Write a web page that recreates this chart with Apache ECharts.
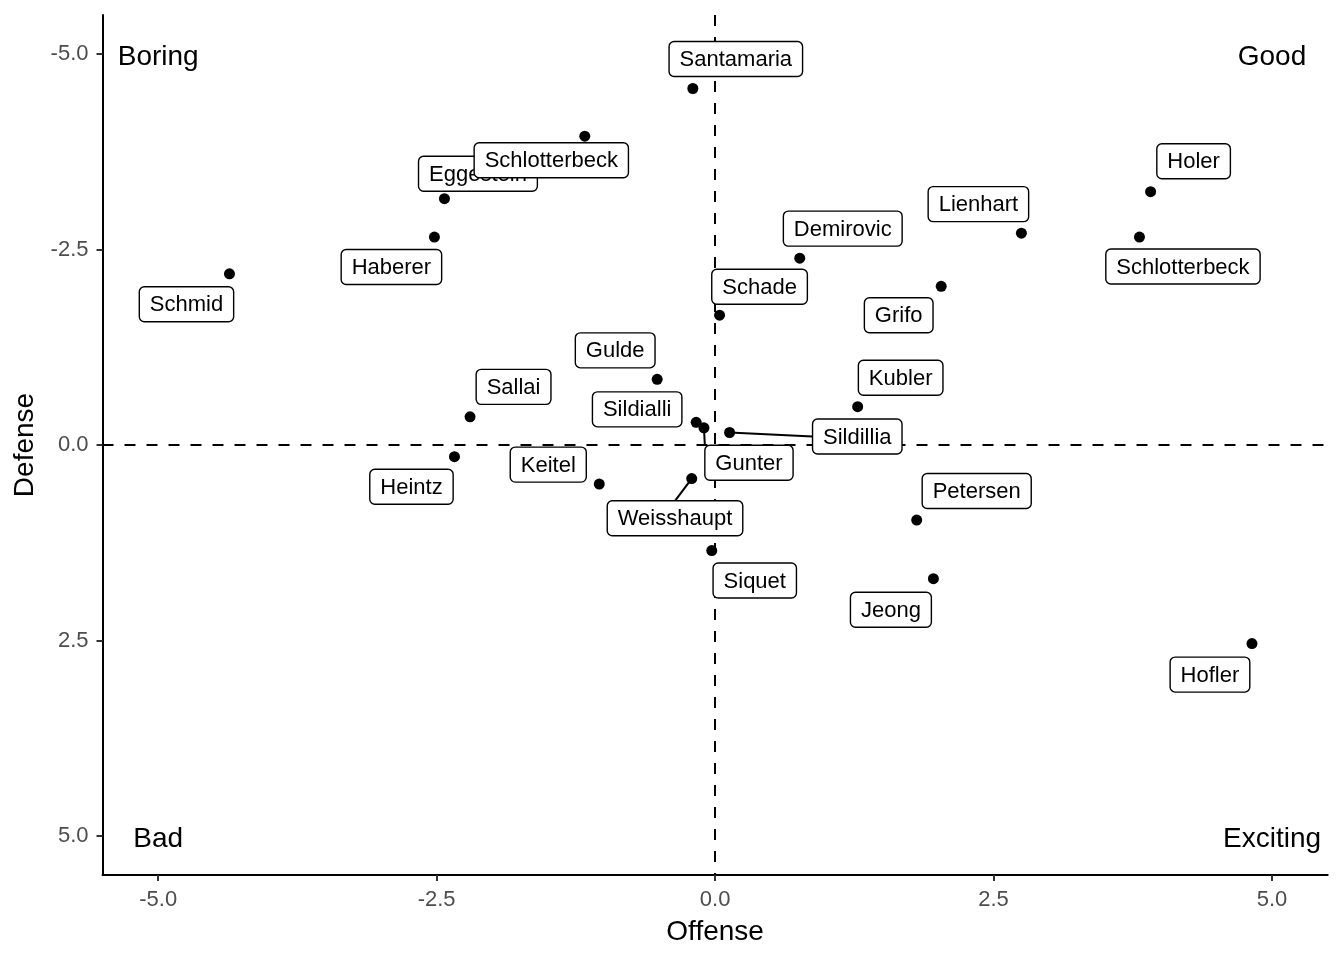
<!DOCTYPE html>
<html>
<head>
<meta charset="utf-8">
<script src="https://cdn.jsdelivr.net/npm/echarts@6/dist/echarts.min.js"></script>
<style>
html,body{margin:0;padding:0;background:#fff;}
#chart{width:1344px;height:960px;}
</style>
</head>
<body>
<div id="chart"></div>
<script>
// ---- data ----
var players = ['Santamaria','Eggestein','Schlotterbeck','Haberer','Schmid','Holer','Lienhart','Schlotterbeck','Demirovic','Grifo','Schade','Gulde','Kubler','Sallai','Sildialli','Gunter','Sildillia','Heintz','Keitel','Weisshaupt','Siquet','Petersen','Jeong','Hofler'];
var offense = [-0.20, -2.43, -1.17, -2.52, -4.36, 3.91, 2.75, 3.81, 0.76, 2.03, 0.04, -0.52, 1.28, -2.20, -0.17, -0.10, 0.13, -2.34, -1.04, -0.21, -0.03, 1.81, 1.96, 4.82];
var defense = [-4.56, -3.15, -3.95, -2.66, -2.19, -3.24, -2.71, -2.66, -2.39, -2.03, -1.66, -0.84, -0.49, -0.36, -0.29, -0.22, -0.16, 0.15, 0.50, 0.43, 1.35, 0.96, 1.71, 2.54];
var tickValues = [-5, -2.5, 0, 2.5, 5];
var quadrantText = ['Boring', 'Good', 'Bad', 'Exciting'];
var quadrantX = [-5, 5, -5, 5];
var quadrantY = [-5, -5, 5, 5];

// ---- label placement (pixel offsets of label centres from their point, repel-style) ----
var labelOffsets = [[43,-29.5],[33.5,-25],[-33.5,24],[-43,30],[-43,30.5],[43,-30.5],[-43,-29],[43.5,29.5],[43,-29.5],[-42.5,29],[40,-28.5],[-42,-29],[43,-29],[43.5,-30],[-59,-13],[45,35],[127.7,4],[-43,30],[-51,-19.5],[-16.7,39.7],[43,30],[60,-29],[-42.5,31],[-42,31]];
var connectorNames = ['Gunter','Sildillia','Weisshaupt'];

var FONT = '"Liberation Sans", Arial, Helvetica, sans-serif';
var LABEL_SIZE = 22;
var measureCtx = document.createElement('canvas').getContext('2d');
function textWidth(t, size) {
  measureCtx.font = size + 'px ' + FONT;
  return measureCtx.measureText(t).width;
}

var pointData = offense.map(function (x, i) { return [x, defense[i], i]; });
var quadData = quadrantX.map(function (x, i) { return [x, quadrantY[i], i]; });

function renderLabel(params, api) {
  var i = api.value(2);
  var p = api.coord([api.value(0), api.value(1)]);
  var off = labelOffsets[i];
  var cx = p[0] + off[0], cy = p[1] + off[1];
  var name = players[i];
  var w = textWidth(name, LABEL_SIZE) + 21;
  var h = 35;
  var x0 = cx - w / 2, y0 = cy - h / 2;
  var children = [];
  if (connectorNames.indexOf(name) >= 0) {
    // connect to the closest of the box's corners / edge midpoints
    var cands = [];
    [x0, cx, x0 + w].forEach(function (ax) {
      [y0, cy, y0 + h].forEach(function (ay) {
        if (!(ax === cx && ay === cy)) cands.push([ax, ay]);
      });
    });
    var best = cands[0], bd = Infinity;
    cands.forEach(function (c) {
      var d = (c[0] - p[0]) * (c[0] - p[0]) + (c[1] - p[1]) * (c[1] - p[1]);
      if (d < bd) { bd = d; best = c; }
    });
    children.push({
      type: 'line',
      shape: { x1: p[0], y1: p[1], x2: best[0], y2: best[1] },
      style: { stroke: '#000', lineWidth: 2 }
    });
  }
  children.push({
    type: 'rect',
    shape: { x: x0, y: y0, width: w, height: h, r: 5 },
    style: { fill: '#fff', stroke: '#000', lineWidth: 1.4 }
  });
  children.push({
    type: 'text',
    style: {
      text: name, x: cx, y: cy + 1, align: 'center', verticalAlign: 'middle',
      font: LABEL_SIZE + 'px ' + FONT, fill: '#000'
    }
  });
  return { type: 'group', children: children };
}

function renderQuad(params, api) {
  var i = api.value(2);
  var p = api.coord([api.value(0), api.value(1)]);
  return {
    type: 'text',
    style: {
      text: quadrantText[i], x: p[0], y: p[1] + 3, align: 'center', verticalAlign: 'middle',
      font: '28px ' + FONT, fill: '#000'
    }
  };
}

var axisCommon = {
  type: 'value',
  min: -5.5,
  max: 5.5,
  nameLocation: 'middle',
  nameTextStyle: { fontSize: 28, color: '#000', fontFamily: FONT },
  axisLine: { show: true, onZero: false, lineStyle: { color: '#000', width: 2 } },
  axisTick: { show: true, length: 6, customValues: tickValues, lineStyle: { color: '#333', width: 2 } },
  axisLabel: {
    customValues: tickValues,
    fontSize: 22, color: '#4D4D4D', fontFamily: FONT,
    formatter: function (v) { return Number(v).toFixed(1); }
  },
  splitLine: { show: false }
};

var chart = echarts.init(document.getElementById('chart'), null, { renderer: 'canvas' });
chart.setOption({
  animation: false,
  backgroundColor: '#fff',
  grid: { left: 102.5, right: 16.3, top: 15, bottom: 85, containLabel: false },
  xAxis: Object.assign({}, axisCommon, {
    name: 'Offense', nameGap: 43,
    axisLabel: Object.assign({}, axisCommon.axisLabel, { margin: 14 })
  }),
  yAxis: Object.assign({}, axisCommon, {
    name: 'Defense', nameGap: 57, inverse: true,
    axisLabel: Object.assign({}, axisCommon.axisLabel, { margin: 14, verticalAlign: 'middle', padding: [6, 0, 0, 0] })
  }),
  series: [
    {
      type: 'scatter',
      data: pointData,
      symbolSize: 11,
      itemStyle: { color: '#000', opacity: 1 },
      z: 3,
      markLine: {
        silent: true,
        symbol: ['none', 'none'],
        label: { show: false },
        lineStyle: { color: '#000', width: 2, type: [11, 11], opacity: 1 },
        data: [{ xAxis: 0 }, { yAxis: 0 }]
      }
    },
    {
      type: 'custom',
      data: quadData,
      encode: { x: 0, y: 1 },
      renderItem: renderQuad,
      clip: false,
      z: 4
    },
    {
      type: 'custom',
      data: pointData,
      encode: { x: 0, y: 1 },
      renderItem: renderLabel,
      clip: false,
      z: 5
    }
  ]
});
</script>
</body>
</html>
